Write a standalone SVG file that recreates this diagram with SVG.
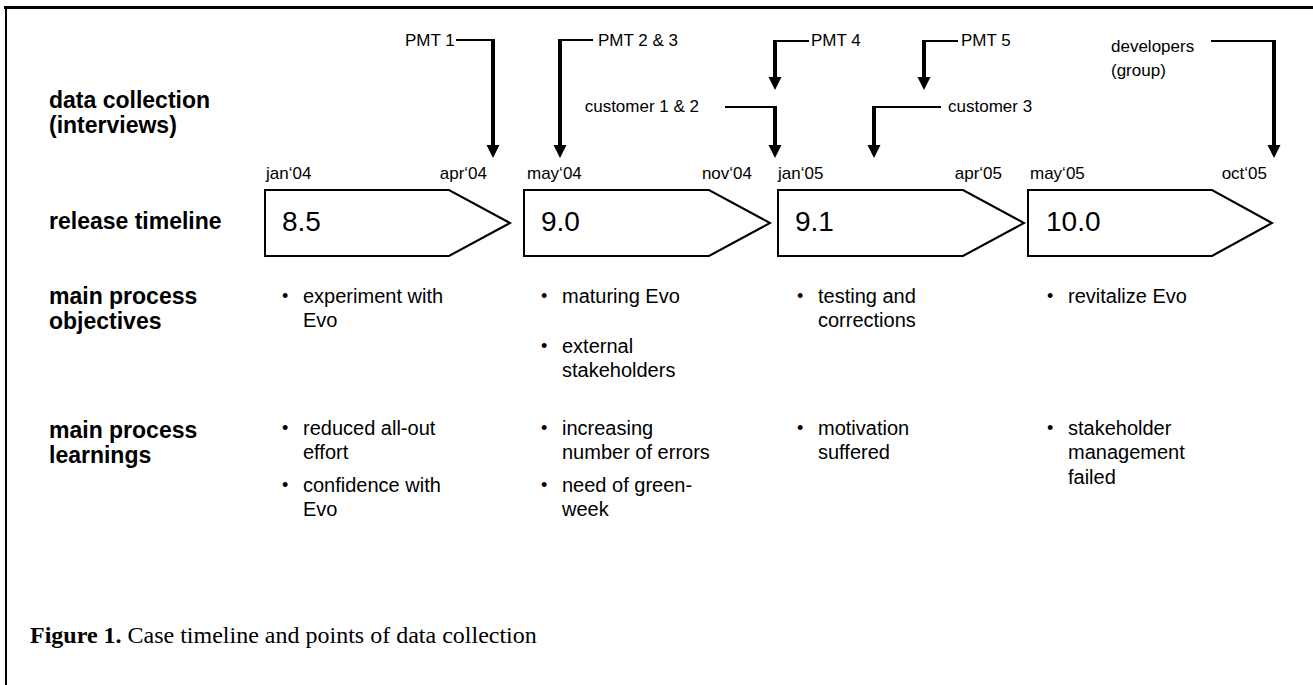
<svg xmlns="http://www.w3.org/2000/svg" width="1313" height="685" viewBox="0 0 1313 685">
<style>
.lbl{font-family:"Liberation Sans",Arial,sans-serif;font-weight:bold;font-size:23px;fill:#000}
.sm{font-family:"Liberation Sans",Arial,sans-serif;font-size:17px;fill:#000}
.num{font-family:"Liberation Sans",Arial,sans-serif;font-size:28px;fill:#000}
.bt{font-family:"Liberation Sans",Arial,sans-serif;font-size:20px;fill:#000}
.bu{font-family:"Liberation Sans",Arial,sans-serif;font-size:18px;fill:#000}
.cap{font-family:"Liberation Serif","Times New Roman",serif;font-size:24px;fill:#000}
.box{fill:#fff;stroke:#000;stroke-width:2}
.h{fill:none;stroke:#000;stroke-width:2.2}
.v{fill:none;stroke:#000;stroke-width:4}
.frame{fill:none;stroke:#000}
</style>
<defs>
<marker id="ah" markerUnits="userSpaceOnUse" markerWidth="14" markerHeight="14" refX="0" refY="7" orient="auto" viewBox="0 0 14 14">
<path d="M0,0.5 L13,7 L0,13.5 Z" fill="#000"/>
</marker>
</defs>
<rect width="1313" height="685" fill="#fff"/>
<g id="frame">
<line class="frame" x1="4" y1="7.5" x2="1313" y2="7.5" stroke-width="3"/>
<line class="frame" x1="6" y1="6" x2="6" y2="685" stroke-width="2"/>
</g>
<g id="row-labels">
<text class="lbl" x="49" y="108">data collection</text>
<text class="lbl" x="49" y="133">(interviews)</text>
<text class="lbl" x="49" y="229">release timeline</text>
<text class="lbl" x="49" y="304">main process</text>
<text class="lbl" x="49" y="329">objectives</text>
<text class="lbl" x="49" y="438">main process</text>
<text class="lbl" x="49" y="463">learnings</text>
</g>
<g id="interview-labels">
<text class="sm" x="405" y="46">PMT 1</text>
<text class="sm" x="598" y="46">PMT 2 &amp; 3</text>
<text class="sm" x="699" y="112" text-anchor="end">customer 1 &amp; 2</text>
<text class="sm" x="811" y="46">PMT 4</text>
<text class="sm" x="961" y="46">PMT 5</text>
<text class="sm" x="948" y="112">customer 3</text>
<text class="sm" x="1111" y="52">developers</text>
<text class="sm" x="1111" y="76">(group)</text>
</g>
<g id="connectors">
<path class="h" d="M456,40 H493"/>
<path class="v" d="M493,39 V145" marker-end="url(#ah)"/>
<path class="h" d="M593,40 H560"/>
<path class="v" d="M560,39 V145" marker-end="url(#ah)"/>
<path class="h" d="M725,107 H775"/>
<path class="v" d="M775,106 V145" marker-end="url(#ah)"/>
<path class="h" d="M809,41 H775"/>
<path class="v" d="M775,40 V77" marker-end="url(#ah)"/>
<path class="h" d="M958,41 H924"/>
<path class="v" d="M924,40 V77" marker-end="url(#ah)"/>
<path class="h" d="M941,107 H874"/>
<path class="v" d="M874,106 V145" marker-end="url(#ah)"/>
<path class="h" d="M1211,41 H1274"/>
<path class="v" d="M1274,40 V145" marker-end="url(#ah)"/>
</g>
<g id="release-8-5">
<text class="sm" x="266" y="179">jan‘04</text>
<text class="sm" x="487" y="179" text-anchor="end">apr‘04</text>
<path class="box" d="M265,190 H449 L510,223 L449,256 H265 Z"/>
<text class="num" x="282" y="231">8.5</text>
</g>
<g id="release-9-0">
<text class="sm" x="527" y="179">may‘04</text>
<text class="sm" x="752" y="179" text-anchor="end">nov‘04</text>
<path class="box" d="M524,190 H709 L770,223 L709,256 H524 Z"/>
<text class="num" x="541" y="231">9.0</text>
</g>
<g id="release-9-1">
<text class="sm" x="778" y="179">jan‘05</text>
<text class="sm" x="1002" y="179" text-anchor="end">apr‘05</text>
<path class="box" d="M778,190 H963 L1024,223 L963,256 H778 Z"/>
<text class="num" x="795" y="231">9.1</text>
</g>
<g id="release-10-0">
<text class="sm" x="1030" y="179">may‘05</text>
<text class="sm" x="1267" y="179" text-anchor="end">oct‘05</text>
<path class="box" d="M1028,190 H1212 L1272,223 L1212,256 H1028 Z"/>
<text class="num" x="1046" y="231">10.0</text>
</g>
<g id="objectives">
<text class="bu" x="282" y="302">•</text>
<text class="bt" x="303" y="303">experiment with</text>
<text class="bt" x="303" y="327">Evo</text>
<text class="bu" x="541" y="302">•</text>
<text class="bt" x="562" y="303">maturing Evo</text>
<text class="bu" x="541" y="352">•</text>
<text class="bt" x="562" y="353">external</text>
<text class="bt" x="562" y="377">stakeholders</text>
<text class="bu" x="797" y="302">•</text>
<text class="bt" x="818" y="303">testing and</text>
<text class="bt" x="818" y="327">corrections</text>
<text class="bu" x="1047" y="302">•</text>
<text class="bt" x="1068" y="303">revitalize Evo</text>
</g>
<g id="learnings">
<text class="bu" x="282" y="434">•</text>
<text class="bt" x="303" y="435">reduced all-out</text>
<text class="bt" x="303" y="459">effort</text>
<text class="bu" x="282" y="491">•</text>
<text class="bt" x="303" y="492">confidence with</text>
<text class="bt" x="303" y="516">Evo</text>
<text class="bu" x="541" y="434">•</text>
<text class="bt" x="562" y="435">increasing</text>
<text class="bt" x="562" y="459">number of errors</text>
<text class="bu" x="541" y="491">•</text>
<text class="bt" x="562" y="492">need of green-</text>
<text class="bt" x="562" y="516">week</text>
<text class="bu" x="797" y="434">•</text>
<text class="bt" x="818" y="435">motivation</text>
<text class="bt" x="818" y="459">suffered</text>
<text class="bu" x="1047" y="434">•</text>
<text class="bt" x="1068" y="435">stakeholder</text>
<text class="bt" x="1068" y="459">management</text>
<text class="bt" x="1068" y="484">failed</text>
</g>
<g id="caption">
<text class="cap" x="30" y="643"><tspan font-weight="bold">Figure 1.</tspan> Case timeline and points of data collection</text>
</g>
</svg>
